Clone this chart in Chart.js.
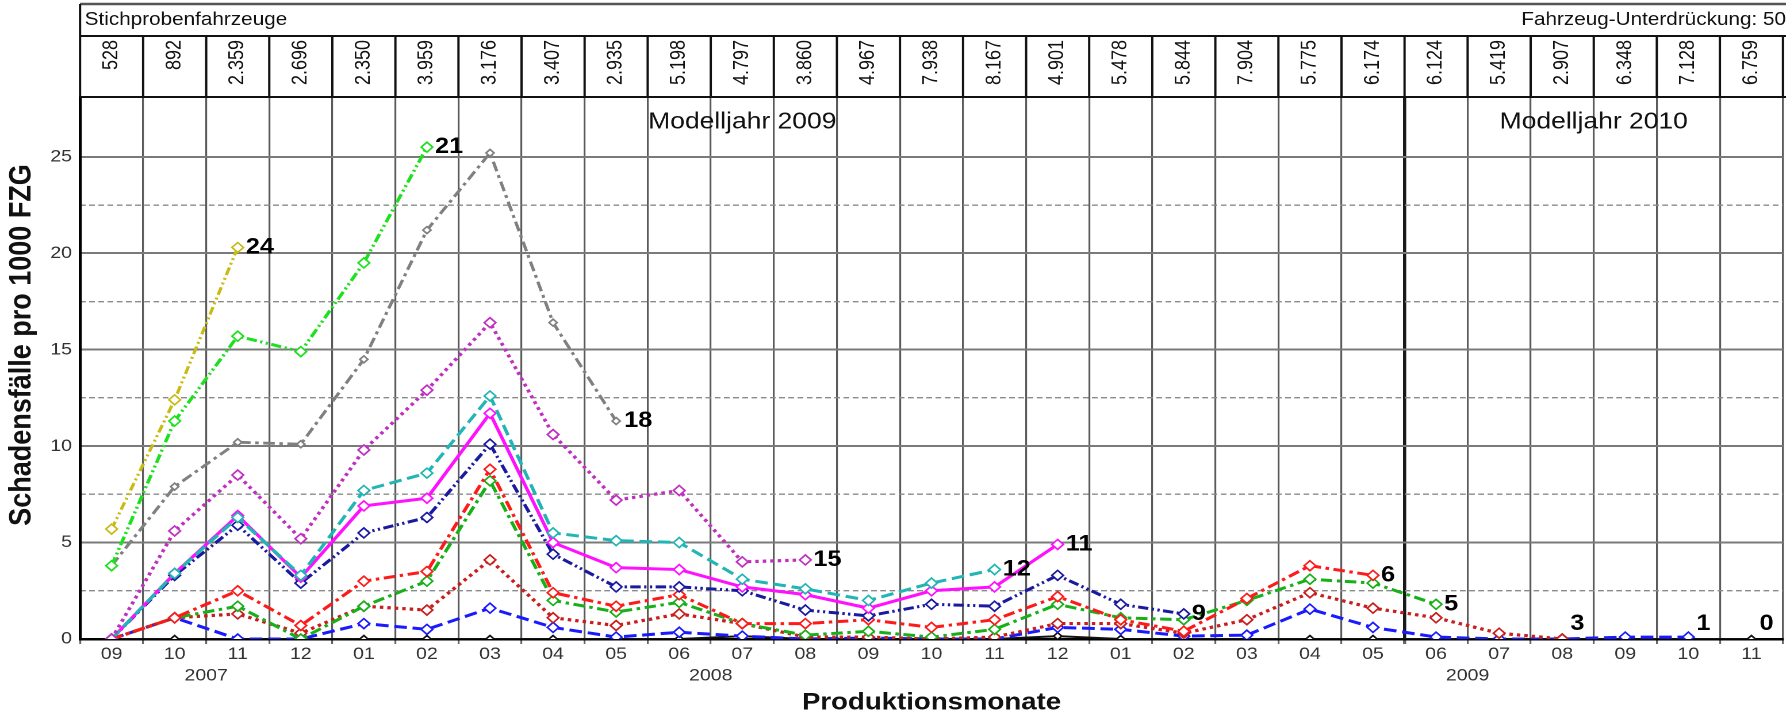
<!DOCTYPE html>
<html lang="de">
<head>
<meta charset="utf-8">
<title>Schadensfälle pro 1000 FZG</title>
<script src="https://cdn.jsdelivr.net/npm/chart.js@4.4.1/dist/chart.umd.min.js"></script>
<style>
  html, body { margin: 0; padding: 0; background: #fff; overflow: hidden; width: 1786px; height: 715px; }
  /* Vorlage ist in x-Richtung gestreckt, deshalb wird das Canvas horizontal skaliert */
  #wrap { width: 1557px; height: 715px; transform: scaleX(1.15); transform-origin: 0 0; }
</style>
</head>
<body>
<div id="wrap"><canvas id="chart"></canvas></div>
<script>
// Produktionsmonate 09/2007 .. 11/2009
const months = ['09', '10', '11', '12', '01', '02', '03', '04', '05', '06', '07', '08',
                '09', '10', '11', '12', '01', '02', '03', '04', '05', '06', '07', '08',
                '09', '10', '11'];
const years = ['2007', '2008', '2009'];

// Stichprobenfahrzeuge je Produktionsmonat
const sampleSizes = [528, 892, 2359, 2696, 2350, 3959, 3176, 3407, 2935, 5198, 4797, 3860,
                     4967, 7938, 8167, 4901, 5478, 5844, 7904, 5775, 6174, 6124, 5419, 2907,
                     6348, 7128, 6759];

// Schadensfälle pro 1000 FZG, je Kurve (Monate im Feld)
const seriesNames = ['24', '21', '18', '15', '12', '11', '9', '6', '5', '3', '1', '0'];
const mis24 = [5.7, 12.4, 20.3];
const mis21 = [3.8, 11.3, 15.7, 14.9, 19.5, 25.5];
const mis18 = [3.8, 7.9, 10.2, 10.1, 14.5, 21.2, 25.2, 16.4, 11.3];
const mis15 = [0, 5.6, 8.5, 5.2, 9.8, 12.9, 16.4, 10.6, 7.2, 7.7, 4.0, 4.1];
const mis12 = [0, 3.4, 6.3, 3.3, 7.7, 8.6, 12.6, 5.5, 5.1, 5.0, 3.1, 2.6, 2.0, 2.9, 3.6];
const mis11 = [0, 3.4, 6.4, 3.2, 6.9, 7.3, 11.7, 5.0, 3.7, 3.6, 2.7, 2.3, 1.6, 2.5, 2.7, 4.9];
const mis9 = [0, 3.3, 5.9, 2.9, 5.5, 6.3, 10.1, 4.4, 2.7, 2.7, 2.5, 1.5, 1.2, 1.8, 1.7, 3.3,
              1.8, 1.3];
const mis6 = [0, 1.1, 2.5, 0.7, 3.0, 3.5, 8.8, 2.4, 1.7, 2.3, 0.8, 0.8, 1.0, 0.6, 1.0, 2.2,
              1.0, 0.4, 2.1, 3.8, 3.3];
const mis5 = [0, 1.1, 1.7, 0, 1.7, 3.0, 8.2, 2.0, 1.4, 1.9, 0.8, 0.2, 0.4, 0.1, 0.5, 1.8,
              1.1, 1.0, 2.0, 3.1, 2.9, 1.8];
const mis3 = [0, 1.1, 1.3, 0.3, 1.7, 1.5, 4.1, 1.1, 0.7, 1.3, 0.8, 0.1, 0.1, 0, 0.1, 0.8,
              0.8, 0.3, 1.0, 2.4, 1.6, 1.1, 0.3, 0];
const mis1 = [0, 1.1, 0, 0, 0.8, 0.5, 1.6, 0.6, 0.1, 0.35, 0.15, 0, 0.05, 0, 0, 0.6,
              0.5, 0.15, 0.2, 1.55, 0.6, 0.1, 0, 0, 0.1, 0.1];
const mis0 = [0, 0, 0, 0, 0, 0, 0, 0, 0, 0, 0.15, 0, 0, 0, 0, 0.15,
              0, 0, 0, 0, 0, 0, 0, 0, 0, 0, 0];

const seriesValues = [mis24, mis21, mis18, mis15, mis12, mis11, mis9, mis6, mis5, mis3, mis1, mis0];

const lineStyles = [
  { color: '#c9bb16', dash: [8, 3, 2, 3, 2, 3], width: 2.8, marker: 5 },
  { color: '#1ee01e', dash: [9, 3, 2, 3, 2, 3], width: 3, marker: 5 },
  { color: '#808080', dash: [10, 4, 3, 4], width: 2.8, marker: 3.5 },
  { color: '#c030c0', dash: [3, 3.5], width: 3.2, marker: 5 },
  { color: '#22b5b5', dash: [11, 5], width: 3, marker: 5 },
  { color: '#ff10ff', dash: [], width: 3, marker: 5 },
  { color: '#1a1aa0', dash: [9, 3, 2, 3, 2, 3], width: 3, marker: 5 },
  { color: '#ff1a1a', dash: [10, 4, 3, 4], width: 3, marker: 5 },
  { color: '#18b018', dash: [10, 4, 3, 4], width: 3, marker: 5 },
  { color: '#c81e1e', dash: [3, 3.5], width: 3.2, marker: 5 },
  { color: '#1a1aff', dash: [11, 5], width: 3, marker: 5 },
  { color: '#111111', dash: [], width: 2, marker: 3.5 },
];

const FONT = '"Liberation Sans", Arial, sans-serif';
Chart.defaults.font.family = FONT;
Chart.defaults.color = '#333';

function formatDe(n) {
  return String(n).replace(/\B(?=(\d{3})+(?!\d))/g, '.');
}

// Tabelle oben, Modelljahr-Texte, Jahreszahlen, y-Titel und Endwerte der Kurven
const tablePlugin = {
  id: 'stichprobenTabelle',
  afterDatasetsDraw(chart) {
    const { ctx, scales: { y } } = chart;
    const zeroY = y.getPixelForValue(0);
    ctx.save();
    ctx.fillStyle = '#000';
    ctx.font = 'bold 22px ' + FONT;
    ctx.textAlign = 'left';
    ctx.textBaseline = 'middle';
    chart.data.datasets.forEach((ds, i) => {
      const pts = chart.getDatasetMeta(i).data;
      const last = pts[pts.length - 1];
      if (!last) return;
      ctx.fillText(ds.label, last.x + 7, Math.min(last.y, zeroY - 15));
    });
    ctx.restore();
  },
  afterDraw(chart) {
    const { ctx, chartArea: area, scales: { x } } = chart;
    const right = chart.width;
    const rowTop = 4, rowMid = 36, rowBottom = area.top;
    ctx.save();

    ctx.strokeStyle = '#555';
    ctx.lineWidth = 2.5;
    ctx.beginPath();
    ctx.moveTo(area.left, rowTop);
    ctx.lineTo(right, rowTop);
    ctx.stroke();

    ctx.strokeStyle = '#111';
    ctx.lineWidth = 2;
    ctx.beginPath();
    ctx.moveTo(area.left, rowTop);
    ctx.lineTo(area.left, rowBottom);
    ctx.moveTo(area.left, rowMid);
    ctx.lineTo(right, rowMid);
    ctx.moveTo(area.left, rowBottom);
    ctx.lineTo(right, rowBottom);
    for (let i = 1; i <= months.length; i++) {
      const bx = x.getPixelForValue(i - 0.5);
      ctx.moveTo(bx, rowMid);
      ctx.lineTo(bx, rowBottom);
    }
    ctx.stroke();

    ctx.fillStyle = '#111';
    ctx.font = '18px ' + FONT;
    ctx.textBaseline = 'middle';
    ctx.textAlign = 'left';
    ctx.fillText('Stichprobenfahrzeuge', area.left + 4, 20);
    ctx.textAlign = 'right';
    ctx.fillText('Fahrzeug-Unterdrückung: 50', right - 4, 20);

    // Stichprobengrößen, gedreht
    ctx.font = '18px ' + FONT;
    sampleSizes.forEach((n, i) => {
      ctx.save();
      ctx.translate(x.getPixelForValue(i), rowMid + 4);
      ctx.rotate(-Math.PI / 2);
      ctx.textAlign = 'right';
      ctx.textBaseline = 'middle';
      ctx.fillText(formatDe(n), 0, 0);
      ctx.restore();
    });

    ctx.font = '23px ' + FONT;
    ctx.textAlign = 'center';
    ctx.textBaseline = 'middle';
    ctx.fillText('Modelljahr 2009', x.getPixelForValue(10), 122);
    ctx.fillText('Modelljahr 2010', x.getPixelForValue(23.5), 122);

    // Jahreszahlen unter den Monaten
    const yearPos = [1.5, 9.5, 21.5];
    ctx.font = '17px ' + FONT;
    ctx.fillStyle = '#333';
    years.forEach((yr, i) => ctx.fillText(yr, x.getPixelForValue(yearPos[i]), 676));

    // y-Achsentitel (in der Vorlage etwas über der Mitte)
    ctx.save();
    ctx.translate(19, 345);
    ctx.rotate(-Math.PI / 2);
    ctx.font = 'bold 27px ' + FONT;
    ctx.fillStyle = '#111';
    ctx.fillText('Schadensfälle pro 1000 FZG', 0, 0);
    ctx.restore();
    ctx.restore();
  }
};

const datasets = seriesNames.map((name, i) => ({
  label: name,
  data: seriesValues[i],
  borderColor: lineStyles[i].color,
  borderDash: lineStyles[i].dash,
  borderWidth: lineStyles[i].width,
  pointStyle: 'rectRot',
  pointRadius: lineStyles[i].marker,
  pointBackgroundColor: '#fff',
  pointBorderColor: lineStyles[i].color,
  pointBorderWidth: 1.6,
  tension: 0,
  fill: false,
}));

const Y_MAX = 28.1;

new Chart(document.getElementById('chart'), {
  type: 'line',
  data: { labels: months, datasets },
  plugins: [tablePlugin],
  options: {
    responsive: true,
    maintainAspectRatio: false,
    animation: false,
    devicePixelRatio: 2,
    layout: { padding: { top: 97, right: 1, bottom: 0, left: 0 } },
    plugins: { legend: { display: false }, tooltip: { enabled: false } },
    scales: {
      x: {
        type: 'category',
        offset: true,
        grid: {
          offset: true,
          color: (c) => c.index === 21 ? '#1a1a1a' : '#5a5a5a',
          lineWidth: (c) => c.index === 21 ? 2.8 : 1.6,
          tickLength: 5,
          tickColor: '#666',
        },
        border: { color: '#000', width: 2.5 },
        ticks: { autoSkip: false, maxRotation: 0, padding: 0, font: { size: 17 }, color: '#333' },
        title: {
          display: true,
          text: 'Produktionsmonate',
          font: { size: 24, weight: 'bold', lineHeight: 1 },
          color: '#111',
          padding: { top: 0, bottom: 0 },
        },
        afterFit(scale) { scale.height = 76; },
      },
      y: {
        min: 0,
        max: Y_MAX,
        position: 'left',
        grid: {
          color: (c) => c.tick && c.tick.value === Y_MAX ? '#111' : '#7a7a7a',
          lineWidth: 2,
          drawTicks: false,
        },
        border: { color: '#000', width: 2.5 },
        ticks: {
          stepSize: 5,
          padding: 7,
          font: { size: 17 },
          color: '#333',
          callback: (v) => (v % 5 === 0 ? v : ''),
        },
        afterFit(scale) { scale.width = 69.6; },
      },
      // nur für die gestrichelten Zwischenlinien bei 2,5 / 7,5 / ...
      yMinor: {
        min: 0,
        max: Y_MAX,
        position: 'left',
        ticks: { stepSize: 2.5, display: false },
        grid: {
          color: (c) => c.tick && Math.abs((c.tick.value % 5) - 2.5) < 0.01 ? '#8a8a8a' : 'rgba(0,0,0,0)',
          lineWidth: 1.4,
          drawTicks: false,
        },
        border: { display: false, dash: [5, 3] },
        afterFit(scale) { scale.width = 0; },
      },
    },
  },
});
</script>
</body>
</html>
